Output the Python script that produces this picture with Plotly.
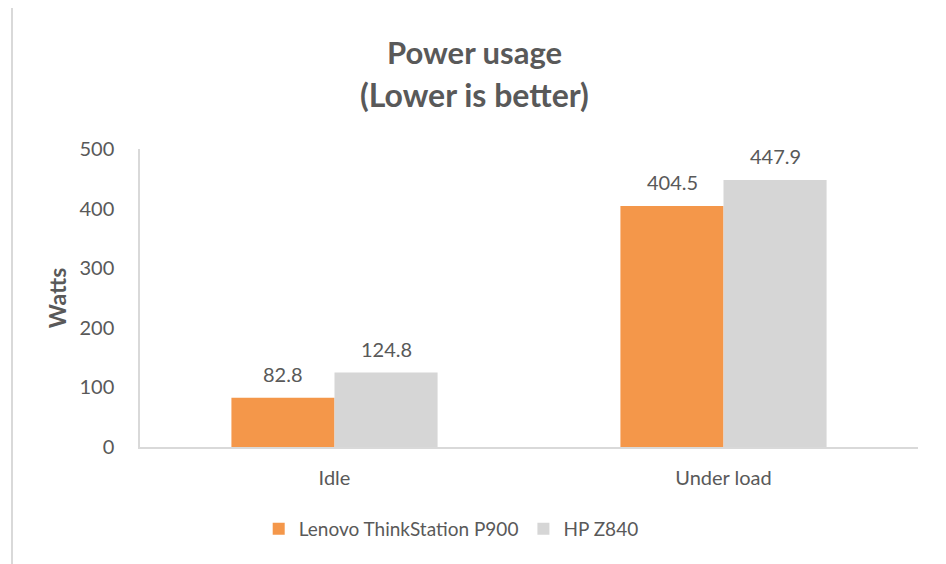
import plotly.graph_objects as go

categories = ["Idle", "Under load"]
series_names = ["Lenovo ThinkStation P900", "HP Z840"]
lenovo_values = [82.8, 404.5]
hp_values = [124.8, 447.9]
y_ticks = [0, 100, 200, 300, 400, 500]

FONT = "Lato, 'Open Sans', sans-serif"
TXT = "#595959"
colors = ["#F4974A", "#D6D6D6"]

fig = go.Figure()
for name, vals, col in zip(series_names, [lenovo_values, hp_values], colors):
    fig.add_trace(go.Bar(
        x=categories, y=vals, name=name, marker=dict(color=col, line=dict(width=0)),
    ))

# value labels placed above each bar (offset half a bar width left/right of category centre)
label_annotations = []
for vals, xshift in zip([lenovo_values, hp_values], [-51.5, 51.5]):
    for cat, v in zip(categories, vals):
        label_annotations.append(dict(
            x=cat, y=v, xref="x", yref="y", text=f"{v:.1f}", showarrow=False,
            xshift=xshift, yshift=10, yanchor="bottom", xanchor="center",
            font=dict(size=20, color=TXT, family=FONT)))

# page body has an 8px margin, so figure is 8px smaller and margins shifted
fig.update_layout(
    width=938, height=556,
    margin=dict(l=132, r=28, t=141, b=117),
    paper_bgcolor="white", plot_bgcolor="white",
    barmode="group", bargap=0.47, bargroupgap=0,
    font=dict(family=FONT, color=TXT, size=18),
    showlegend=True,
    legend=dict(orientation="h", x=0.40, xanchor="center", y=-0.275, yanchor="middle",
                font=dict(size=19, color=TXT, family=FONT), itemsizing="constant",
                traceorder="normal"),
    annotations=[
        dict(text="<b>Power usage</b>", xref="paper", yref="paper", x=0.43, y=1.325,
             showarrow=False, font=dict(size=31, color=TXT, family=FONT), xanchor="center", yanchor="middle"),
        dict(text="<b>(Lower is better)</b>", xref="paper", yref="paper", x=0.43, y=1.183,
             showarrow=False, font=dict(size=32, color=TXT, family=FONT), xanchor="center", yanchor="middle"),
    ] + label_annotations,
    shapes=[
        dict(type="rect", xref="paper", yref="paper", x0=-0.1645, x1=1.0334, y0=-0.5, y1=1.48,
             line=dict(color="#D9D9D9", width=2), layer="below"),
    ],
)
fig.update_xaxes(showline=True, linecolor="#D9D9D9", linewidth=1.5, showgrid=False,
                 ticks="", tickfont=dict(size=20, color=TXT, family=FONT), ticklabelstandoff=12)
fig.update_yaxes(range=[0, 500], tickvals=y_ticks, showline=True, linecolor="#D9D9D9", linewidth=1.5,
                 showgrid=False, zeroline=False, ticks="", tickfont=dict(size=20, color=TXT, family=FONT),
                 ticklabelstandoff=20,
                 title=dict(text="<b>Watts</b>", font=dict(size=23, color=TXT, family=FONT), standoff=6))

fig.write_html("out.html")
